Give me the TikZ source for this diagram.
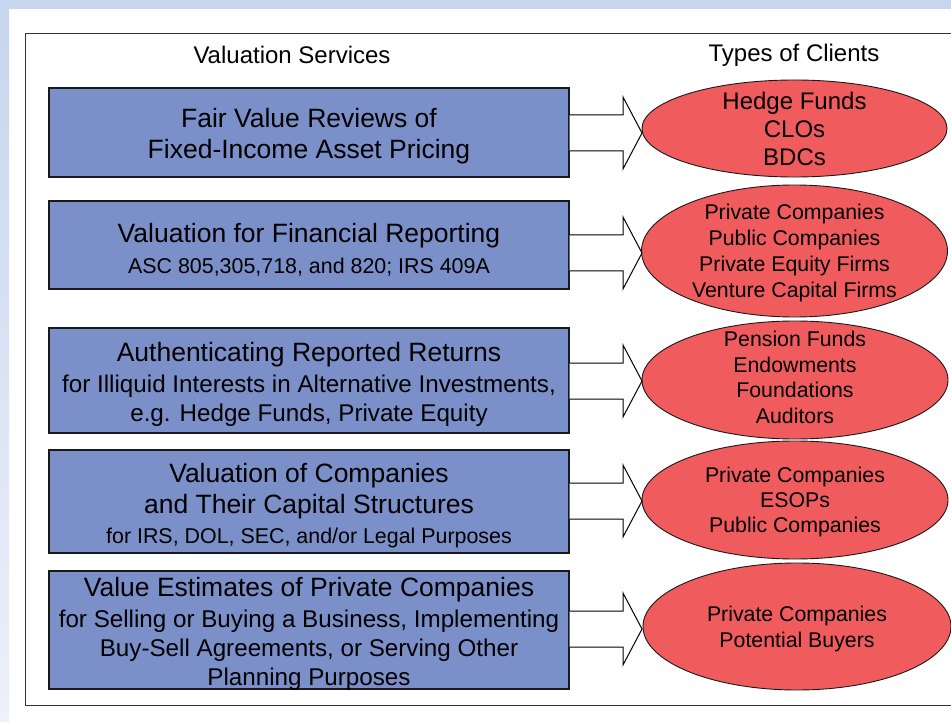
\documentclass[tikz,border=0pt]{standalone}
\usepackage{fontspec}
\setmainfont{Liberation Sans}
\usetikzlibrary{shapes.geometric,calc}
\definecolor{boxblue}{RGB}{123,143,200}
\definecolor{ellred}{RGB}{240,92,93}
\definecolor{bgblue}{RGB}{198,214,238}
\definecolor{bglav}{RGB}{238,240,250}
\newcommand\subA{\fontsize{21.4}{26}\selectfont}
\newcommand\subB{\fontsize{24.2}{29}\selectfont}
\newcommand\blockarr[2]{%
  \draw[blk] let \p1=(#1.east), \p2=(#2) in
    (\x1,\y2+18) -- (\x2-19,\y2+18) -- (\x2-19,\y2+36) -- (\x2,\y2)
    -- (\x2-19,\y2-36) -- (\x2-19,\y2-18) -- (\x1,\y2-18);}
\begin{document}
\begin{tikzpicture}[x=1pt,y=-1pt,
  svc/.style={draw=black!90, line width=1.2pt, fill=boxblue, minimum width=520pt, inner sep=0pt},
  svctext/.style={inner sep=0pt, align=center, font=\fontsize{26.5}{31}\selectfont},
  cli/.style={ellipse, draw=black!90, line width=0.9pt, fill=ellred, inner sep=0pt},
  clitext/.style={inner sep=0pt, align=center},
  blk/.style={draw=black, line width=1pt, fill=white, line join=miter},
  hdr/.style={font=\fontsize{24}{28}\selectfont}]
\useasboundingbox (0,0) rectangle (951,722);
\clip (0,0) rectangle (951,722);
\fill[white] (0,0) rectangle (951,722);
\fill[bgblue] (0,0) rectangle (951,9);
\shade[top color=bgblue, bottom color=bglav] (0,9) rectangle (9,722);
\draw[black!80, line width=0.9pt] (25,33) rectangle (970,705);

\node[hdr] (h1) at (292,55) {Valuation Services};
\node[hdr] (h2) at (794,55) {Types of Clients};

\node[svc, minimum height=89pt] (b1) at (309,132.5) {};
\node[svctext] (b1t) at ([yshift=-4pt]b1.center) {Fair Value Reviews of\\Fixed-Income Asset Pricing};
\node[svc, minimum height=88pt] (b2) at (309,245) {};
\node[svctext] (b2t) at ([yshift=-5pt]b2.center) {Valuation for Financial Reporting\\{\subA ASC 805,305,718, and 820; IRS 409A}};
\node[svc, minimum height=105pt] (b3) at (309,380.5) {};
\node[svctext] (b3t) at ([yshift=-4pt]b3.center) {Authenticating Reported Returns\\{\subB for Illiquid Interests in Alternative Investments,}\\[-2pt]{\subB e.g. Hedge Funds, Private Equity}};
\node[svc, minimum height=103pt] (b4) at (309,501.5) {};
\node[svctext] (b4t) at ([yshift=-4pt]b4.center) {Valuation of Companies\\and Their Capital Structures\\[-1pt]{\subA for IRS, DOL, SEC, and/or Legal Purposes}};
\node[svc, minimum height=118pt] (b5) at (309,630) {};
\node[svctext] (b5t) at ([yshift=-4pt]b5.center) {Value Estimates of Private Companies\\{\subB for Selling or Buying a Business, Implementing}\\[-2pt]{\subB Buy-Sell Agreements, or Serving Other}\\[-2pt]{\subB Planning Purposes}};

\node[cli, minimum width=305pt, minimum height=97pt] (e1) at (794.5,128.5) {};
\node[clitext, font=\fontsize{24}{28}\selectfont] (e1t) at (e1.center) {Hedge Funds\\CLOs\\BDCs};
\node[cli, minimum width=306pt, minimum height=132pt] (e2) at (794.5,251) {};
\node[clitext, font=\fontsize{21.3}{25.7}\selectfont] (e2t) at ([yshift=-2pt]e2.center) {Private Companies\\Public Companies\\Private Equity Firms\\Venture Capital Firms};
\node[cli, minimum width=306pt, minimum height=118pt] (e3) at (795,380) {};
\node[clitext, font=\fontsize{21.3}{25.5}\selectfont] (e3t) at ([yshift=2.5pt]e3.center) {Pension Funds\\Endowments\\Foundations\\Auditors};
\node[cli, minimum width=306pt, minimum height=118pt] (e4) at (795,500) {};
\node[clitext, font=\fontsize{21.3}{25}\selectfont] (e4t) at ([yshift=-1.5pt]e4.center) {Private Companies\\ESOPs\\Public Companies};
\node[cli, minimum width=308pt, minimum height=127pt] (e5) at (797,626.5) {};
\node[clitext, font=\fontsize{21.3}{26}\selectfont] (e5t) at ([yshift=-2pt]e5.center) {Private Companies\\Potential Buyers};

\coordinate (t1) at (642,133);
\coordinate (t2) at (642,253);
\coordinate (t3) at (642,381);
\coordinate (t4) at (642,501);
\coordinate (t5) at (642,629);
\blockarr{b1}{t1}
\blockarr{b2}{t2}
\blockarr{b3}{t3}
\blockarr{b4}{t4}
\blockarr{b5}{t5}
\end{tikzpicture}
\end{document}
